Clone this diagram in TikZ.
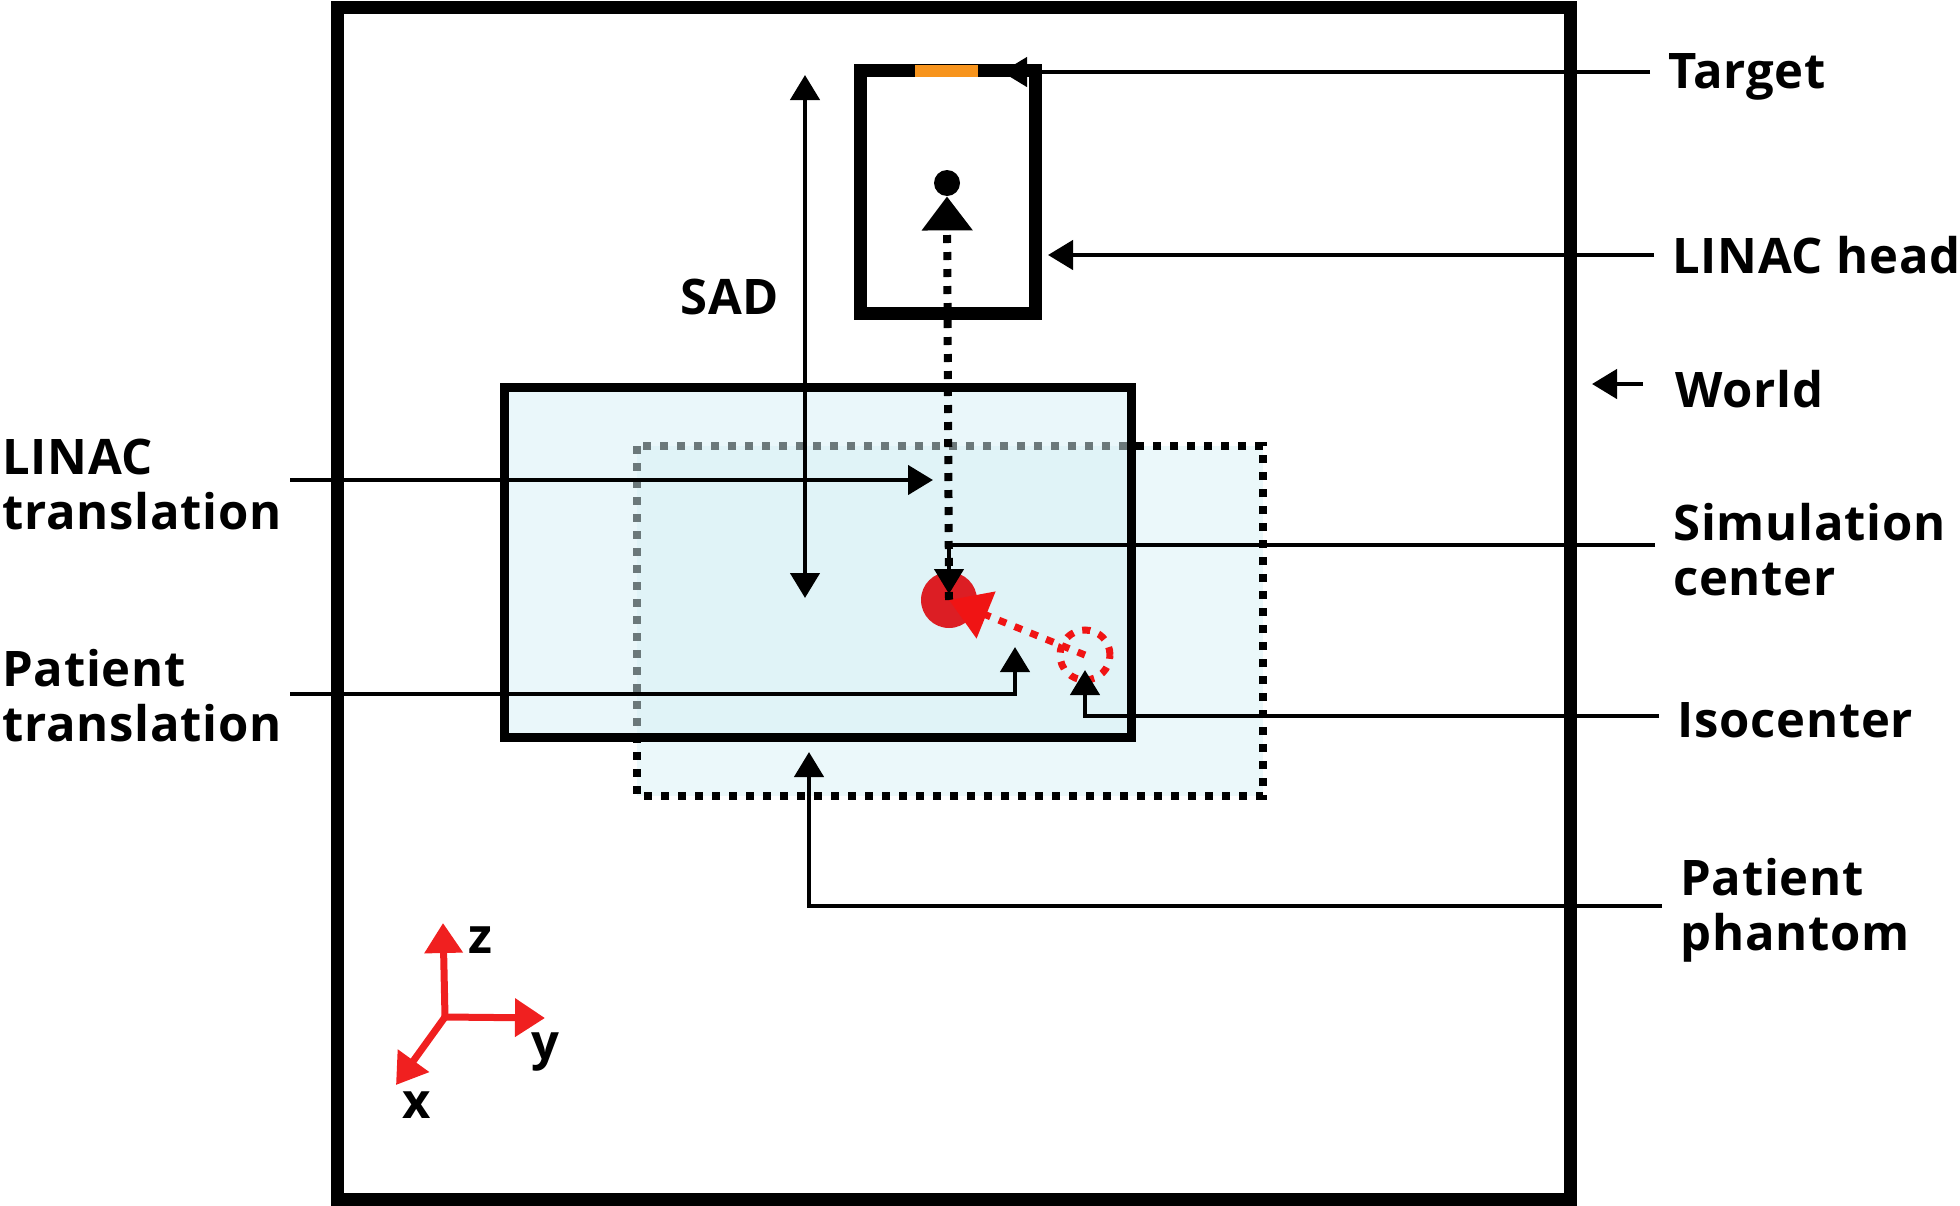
\documentclass[tikz,border=0pt]{standalone}
\usepackage{fontspec}
\setmainfont{Open Sans}[LetterSpace=1.5]
\usetikzlibrary{arrows.meta,calc}

\definecolor{targetorange}{RGB}{247,148,29}
\definecolor{simred}{RGB}{220,30,36}
\definecolor{isored}{RGB}{240,20,20}
\definecolor{axisred}{RGB}{240,32,32}
\definecolor{phantomfill}{RGB}{235,248,250}
\definecolor{tablefill}{RGB}{214,240,245}

\begin{document}
\begin{tikzpicture}[x=0.5pt, y=-0.5pt,
    >={Triangle[length=12.5pt,width=14.5pt]},
    lbl/.style={font=\bfseries\fontsize{24.5}{27.5}\selectfont, inner ysep=0pt, inner xsep=9pt, align=left, anchor=west},
    leader/.style={line width=2.25pt},
    frame/.style={line width=6.5pt},
    dots/.style={line width=4pt, dash pattern=on 4pt off 4.5pt}]

\useasboundingbox (0,0) rectangle (1960,1205);

% World volume
\draw[frame] (337,7) rectangle (1570,1199);

% LINAC head with target
\draw[frame] (860,70) rectangle (1035,313);
\fill[targetorange] (915,65) rectangle (978,77);

% Patient phantom (dotted) and shifted patient box
\draw[dots, fill=phantomfill] (637,446) rectangle (1263,796);
\fill[tablefill, fill opacity=0.5] (504,387) rectangle (1131,737);
\draw[line width=4.5pt] (504,387) rectangle (1131,737);

% Source, simulation center and isocenter
\node[circle, fill, inner sep=0pt, minimum size=13pt] (src) at (947,183) {};
\node[circle, fill=simred, inner sep=0pt, minimum size=28pt] (simc) at (949,600) {};
\node[circle, draw=isored, dots, line width=3.5pt, inner sep=0pt, minimum size=25pt] (iso) at (1085,655) {};

% Beam axis
\draw[dots, -{Triangle[length=17pt,width=24.5pt]}] (simc.center) -- (src.south);

% Isocenter shift
\draw[dots, isored, line width=3.5pt, -{Triangle[length=20pt,width=24.5pt]}]
    (iso.center) -- (simc.center);

% SAD
\coordinate (sadtop) at (805,75);
\coordinate (sadbot) at (805,598);
\draw[leader, <->] (sadtop) -- (sadbot);
\node[lbl, anchor=center, inner xsep=0pt] (sad) at (730,297) {SAD};

% Labels on the right
\node[lbl] (tgtlbl) at (1650,77) {Target};
\node[lbl] (headlbl) at (1654,255) {LINAC head};
\node[lbl] (worldlbl) at (1657,389) {World};
\node[lbl] (simlbl) at (1655,550) {Simulation\\center};
\node[lbl] (isolbl) at (1659,720) {Isocenter};
\node[lbl] (phlbl) at (1662,910) {Patient\\phantom};

% Labels on the left
\node[lbl, inner xsep=4pt] (lintr) at (-6,484) {LINAC\\translation};
\node[lbl, inner xsep=4pt] (pattr) at (-6,696) {Patient\\translation};

% Leaders
\coordinate (tgttip) at (1002,72);
\coordinate (headtip) at (1048,255);
\coordinate (worldtip) at (1592,384);
\coordinate (lintip) at (933,480);
\coordinate (pattip) at (1015,647);
\coordinate (phtip) at (809,752);
\draw[leader, ->] ([yshift=2.5pt]tgtlbl.west) -- (tgttip);
\draw[leader, ->] (headlbl.west) -- (headtip);
\draw[leader, ->, shorten <=7pt] ([yshift=2.5pt]worldlbl.west) -- (worldtip);
\draw[leader, ->] ([yshift=2.5pt]simlbl.west) -| ([yshift=3pt]simc.center);
\draw[leader, ->] ([yshift=2pt]isolbl.west) -| ([yshift=-7.5pt]iso.center);
\draw[leader, ->] ([yshift=2pt]phlbl.west) -| (phtip);
\draw[leader, ->] ([yshift=2pt]lintr.east) -- (lintip);
\draw[leader, ->] ([yshift=1pt]pattr.east) -| (pattip);

% Coordinate axes
\coordinate (O) at (445,1017);
\coordinate (zend) at (443,923);
\coordinate (yend) at (545,1018);
\coordinate (xend) at (396,1085);
\foreach \ax in {zend,yend,xend}
  \draw[axisred, line width=3.5pt, -{Triangle[length=15pt,width=18.5pt]}] (O) -- (\ax);
\node[lbl, anchor=center, inner xsep=0pt] (zlbl) at (480,940) {z};
\node[lbl, anchor=center, inner xsep=0pt] (ylbl) at (545,1052) {y};
\node[lbl, anchor=center, inner xsep=0pt] (xlbl) at (417,1105) {x};

\end{tikzpicture}
\end{document}
